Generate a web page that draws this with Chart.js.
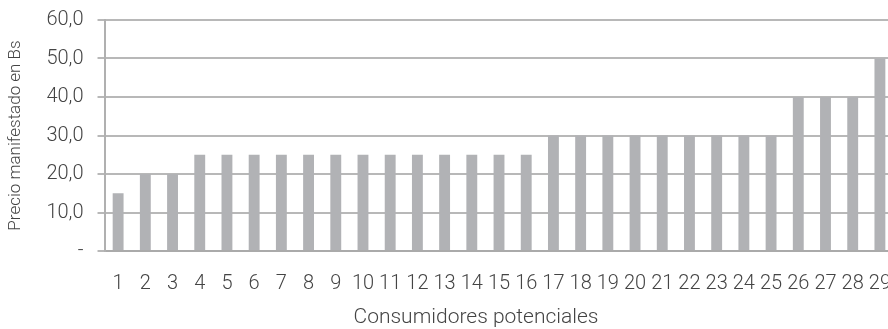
<!DOCTYPE html>
<html>
<head>
  <title>Precio manifestado</title>
  <script src="https://cdn.jsdelivr.net/npm/chart.js"></script>
  <style>
    html, body { margin: 0; padding: 0; overflow: hidden; background: #fff; }
    #wrap { width: 912px; height: 329px; }
  </style>
</head>
<body>
  <div id="wrap"><canvas id="precioChart"></canvas></div>

  <script>
    // Consumidores potenciales 1..29
    const consumidores = ['1','2','3','4','5','6','7','8','9','10','11','12','13','14','15',
                          '16','17','18','19','20','21','22','23','24','25','26','27','28','29'];
    const precios = [15, 20, 20, 25, 25, 25, 25, 25, 25, 25, 25, 25, 25, 25, 25,
                     25, 30, 30, 30, 30, 30, 30, 30, 30, 30, 40, 40, 40, 50];

    const font = { family: 'Roboto', size: 20, weight: '300' };

    // x axis title, centred a bit left of the (clipped) plot
    const xTitle = {
      id: 'xTitle',
      afterDraw(chart) {
        const c = chart.ctx;
        c.save();
        c.font = '300 21px Roboto';
        c.fillStyle = '#444';
        c.textAlign = 'center';
        c.textBaseline = 'middle';
        c.fillText('Consumidores potenciales', 476, 318);
        c.restore();
      }
    };

    const ctx = document.getElementById('precioChart').getContext('2d');
    new Chart(ctx, {
      type: 'bar',
      data: {
        labels: consumidores,
        datasets: [{
          data: precios,
          backgroundColor: '#b1b2b5',
          categoryPercentage: 1,
          barPercentage: 0.4
        }]
      },
      options: {
        responsive: true,
        maintainAspectRatio: false,
        animation: false,
        layout: { padding: { top: 4, left: 6, right: 0, bottom: 12 } },
        plugins: { legend: { display: false }, tooltip: { enabled: false } },
        scales: {
          x: {
            grid: { display: false, drawTicks: false },
            border: { color: '#aaa', width: 2 },
            ticks: { color: '#444', font: font, padding: 21, maxRotation: 0, autoSkip: false }
          },
          y: {
            min: 0, max: 60,
            ticks: {
              stepSize: 10, color: '#444', font: { family: 'Roboto', size: 20, weight: '300', lineHeight: 0.6 },
              padding: 14,
              callback: v => v === 0 ? '-' : v.toFixed(1).replace('.', ',')
            },
            grid: { color: '#b8b8b8', lineWidth: 2, tickLength: 7 },
            border: { color: '#b0b0b0', width: 2 },
            title: { display: true, text: 'Precio manifestado en Bs', color: '#444',
                     font: { family: 'Roboto', size: 17, weight: '300' }, padding: { top: 0, bottom: 6 } }
          }
        }
      },
      plugins: [xTitle]
    });
  </script>
</body>
</html>
